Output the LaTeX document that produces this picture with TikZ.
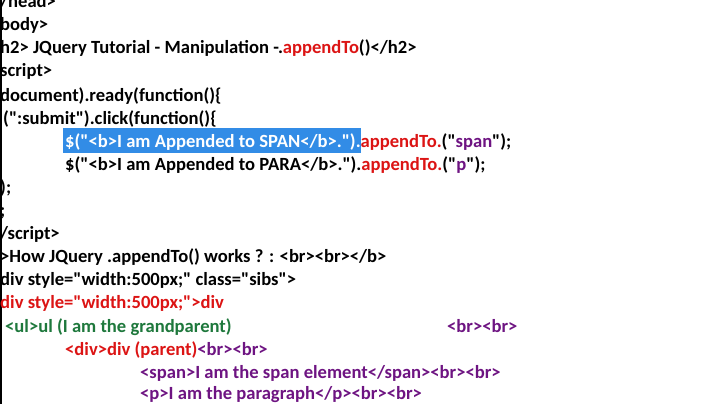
\documentclass[tikz,border=0pt]{standalone}
\usepackage{fontspec}
\setmainfont{Carlito}[Ligatures=TeXOff]
\begin{document}
\begin{tikzpicture}[x=1pt,y=-1pt,
  every node/.style={anchor=base west,inner sep=0pt,font=\bfseries\fontsize{18.6}{20}\selectfont}]
\definecolor{cred}{RGB}{220,20,20}
\definecolor{cgreen}{RGB}{30,120,60}
\definecolor{cpurple}{RGB}{110,20,130}
\definecolor{chl}{RGB}{50,140,230}
\newcommand{\q}{\symbol{34}}
\useasboundingbox (0,0) rectangle (720,404);
\fill[white] (0,0) rectangle (720,404);
\fill[black] (0,0) rectangle (2,404);
\fill[chl] (63,128) rectangle (361,153);
\node (l1) at (0,8) {/head>};
\node (l2) at (0,31) {body>};
\node (l3) at (0,54) {h2> JQuery Tutorial - Manipulation -.\textcolor{cred}{appendTo}()</h2>};
\node (l4) at (0,77) {script>};
\node (l5) at (0,101) {document).ready(function()\{};
\node (l6) at (3,124) {(\q:submit\q).click(function()\{};
\node (l7) at (65,147) {\textcolor{white}{\$(\q<b>I am Appended to SPAN</b>.\q).}\textcolor{cred}{appendTo.}(\q\textcolor{cpurple}{span}\q);};
\node (l8) at (65,170) {\$(\q<b>I am Appended to PARA</b>.\q).\textcolor{cred}{appendTo.}(\q\textcolor{cpurple}{p}\q);};
\node (l9) at (0,193) {);};
\node (l10) at (0,216) {;};
\node (l11) at (0,239) {/script>};
\node (l12) at (0,262) {>How JQuery .appendTo() works ? : <br><br></b>};
\node (l13) at (0,285) {div style=\q width:500px;\q{} class=\q sibs\q>};
\node (l14) at (0,308) {\textcolor{cred}{div style=\q width:500px;\q>div}};
\node (l15) at (5,332) {\textcolor{cgreen}{<ul>ul (I am the grandparent)}};
\node (l15b) at (447,332) {\textcolor{cpurple}{<br><br>}};
\node (l16) at (65,355) {\textcolor{cred}{<div>div (parent)}\textcolor{cpurple}{<br><br>}};
\node (l17) at (140,378) {\textcolor{cpurple}{<span>I am the span element</span><br><br>}};
\node (l18) at (140,399) {\textcolor{cpurple}{<p>I am the paragraph</p><br><br>}};
\end{tikzpicture}
\end{document}
